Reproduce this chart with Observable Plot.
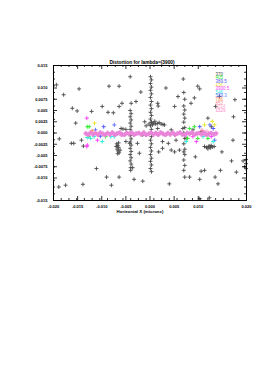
<!DOCTYPE html>
<html><head><meta charset="utf-8">
<script src="https://cdn.jsdelivr.net/npm/d3@7"></script>
<script src="https://cdn.jsdelivr.net/npm/@observablehq/plot@0.6"></script>
<style>body{margin:0;background:#fff}#chart{width:273px;height:386px}</style>
</head><body><div id="chart"></div>
<script>
const titleText = "Distortion for lambda=(3900)";
const xTitle = "Horizontal X (microns)";
const seriesLabels = ["370","405","389.5","436","3900.5","546","589.3","706","852","1014","1529"];
const seriesColors = ["#4a4a4a","#33ee33","#5555ff","#e8e830","#ff44ff","#33eedd","#6677ff","#ff8844","#ff8899","#ffaacc","#ff88cc"];
const bandColor = "#e985d9";

const xTickValues = [-0.02,-0.015,-0.01,-0.005,0,0.005,0.01,0.02];
const xTickLabels = ["-0.020","-0.015","-0.010","-0.005","0.000","0.005","0.010","0.020"];
const yTickValues = [-0.015,-0.01,-0.0075,-0.005,-0.0025,0,0.0025,0.005,0.0075,0.01,0.015];
const yTickLabels = ["-0.015","-0.010","-0.0075","-0.005","-0.0025","0.000","0.0025","0.005","0.0075","0.010","0.015"];

// gray "+" scatter (series 370)
const scatterX = [-0.0189,-0.0175,-0.0179,-0.0161,-0.0154,-0.0163,-0.0139,-0.0121,-0.0111,-0.0099,-0.0090,-0.0087,-0.0085,-0.0080,-0.0076,-0.0064,-0.0064,-0.0064,-0.0058,-0.0056,-0.0050,-0.0042,-0.0036,-0.0033,-0.0029,-0.0022,-0.0019,-0.0015,0.0016,0.0017,0.0018,0.0026,0.0033,0.0038,0.0040,0.0044,0.0051,0.0051,0.0058,0.0061,0.0075,0.0082,0.0085,0.0092,0.0094,0.0099,0.0103,0.0106,0.0113,0.0120,0.0123,0.0127,0.0135,0.0136,0.0141,0.0144,0.0146,0.0149,0.0169,0.0172,0.0173,0.0176,0.0179,0.0193,0.0196,0.0199,0.0199,0.0199,-0.0194,-0.0147,-0.0151,-0.0188,-0.0142,-0.0138,0.0069,0.0103,0.0103,-0.0158,-0.0050,-0.0026,-0.0015,-0.0060,0.0016,0.0030,0.0044,0.0054,0.0026,0.0089,0.0106,0.0068];
const scatterY = [-0.0120,-0.0116,0.0085,0.0055,0.0022,-0.0023,-0.0114,0.0048,-0.0079,0.0059,-0.0098,0.0046,0.0104,-0.0116,0.0045,0.0104,0.0059,-0.0098,0.0066,0.0009,-0.0019,-0.0023,-0.0077,-0.0103,0.0070,-0.0045,0.0091,-0.0107,0.0066,0.0060,-0.0042,-0.0034,0.0100,-0.0023,-0.0113,-0.0038,0.0059,-0.0042,0.0081,-0.0038,-0.0012,-0.0098,0.0066,0.0078,-0.0053,0.0104,-0.0103,-0.0085,-0.0083,0.0033,-0.0144,0.0014,-0.0098,0.0059,-0.0113,0.0081,-0.0083,-0.0042,-0.0062,-0.0016,0.0036,0.0074,-0.0087,-0.0062,-0.0075,-0.0079,-0.0068,-0.0059,0.0107,0.0098,0.0049,-0.0013,-0.0016,-0.0029,0.0120,0.0098,-0.0146,-0.0023,0.0008,-0.0023,-0.0004,0.0010,0.0010,0.0018,0.0007,-0.0016,-0.0019,0.0007,0.0003,0.0010];

// vertical columns and clusters (series 370)
const columnAX = [-0.0041,-0.0039,-0.0041,-0.0039,-0.0041,-0.0039,-0.0041,-0.0039,-0.0041,-0.0039,-0.0041,-0.0039,-0.0041,-0.0039,-0.0041,-0.0039,-0.0041,-0.0039,-0.0041,-0.0039,-0.0040,-0.0040];
const columnAY = [0.0125,0.0066,0.0050,0.0043,0.0036,0.0029,0.0022,0.0015,0.0008,0.0001,-0.0006,-0.0013,-0.0020,-0.0027,-0.0034,-0.0041,-0.0048,-0.0055,-0.0062,-0.0069,-0.0077,-0.0083];
const columnBX = [0.0001,0.0003,0.0001,0.0003,0.0001,0.0003,0.0001,0.0003,0.0001,0.0003,0.0001,0.0003,0.0001,0.0003,0.0001,0.0003,0.0001,0.0003,0.0001,0.0003,0.0001,0.0003,0.0001,0.0003,0.0001,0.0003,0.0001,0.0003];
const columnBY = [0.0125,0.0118,0.0110,0.0102,0.0095,0.0087,0.0079,0.0070,0.0062,0.0054,0.0046,0.0039,0.0031,0.0024,0.0016,0.0008,0.0000,-0.0008,-0.0016,-0.0024,-0.0032,-0.0040,-0.0048,-0.0056,-0.0063,-0.0071,-0.0079,-0.0086];
const columnCX = [0.0070,0.0072,0.0070,0.0072,0.0070,0.0072,0.0070,0.0072,0.0070,0.0072,0.0070,0.0072,0.0070,0.0072,0.0070,0.0072,0.0070,0.0072];
const columnCY = [0.0090,0.0075,0.0060,0.0051,0.0042,0.0033,0.0024,0.0012,0.0000,-0.0012,-0.0024,-0.0036,-0.0042,-0.0048,-0.0060,-0.0072,-0.0083,-0.0098];
const clusterX = [0.0003,0.0007,0.0011,0.0015,0.0019,0.0023,0.0027,0.0005,0.0010,-0.0002,-0.0008,-0.0011,-0.0069,-0.0067,-0.0065,-0.0068,-0.0066,-0.0064,-0.0070,-0.0062,-0.0067,-0.0065,0.0113,0.0117,0.0121,0.0125,0.0129,0.0133,0.0120,0.0127,0.0124];
const clusterY = [0.0024,0.0022,0.0020,0.0021,0.0023,0.0020,0.0019,0.0018,0.0026,0.0020,0.0016,0.0025,-0.0024,-0.0028,-0.0032,-0.0036,-0.0040,-0.0044,-0.0030,-0.0038,-0.0046,-0.0022,-0.0030,-0.0032,-0.0030,-0.0033,-0.0031,-0.0030,-0.0035,-0.0028,-0.0029];

// coloured series near zero
const colourX = [-0.0126,-0.0115,-0.0096,-0.0074,-0.0127,-0.0123,-0.0130,-0.0109,-0.0116,-0.0103,-0.0092,-0.0081,-0.0074,-0.0099,-0.0113,-0.0131,-0.0131,-0.0130,-0.0130,0.0082,0.0092,0.0103,0.0113,0.0124,0.0131,0.0134,0.0078,0.0089,0.0099,0.0110,0.0120,0.0127,0.0134,0.0075,0.0096,0.0131,0.0129,-0.0120,0.0108,-0.0060,0.0118];
const colourY = [0.0014,0.0022,0.0014,0.0018,-0.0008,-0.0012,-0.0027,-0.0016,-0.0008,-0.0007,-0.0008,-0.0008,-0.0008,-0.0019,0.0007,0.0033,-0.0030,-0.0010,0.0014,0.0010,0.0014,0.0014,0.0018,0.0018,0.0010,0.0018,-0.0012,-0.0008,-0.0012,-0.0008,-0.0012,-0.0008,-0.0016,-0.0019,-0.0019,-0.0019,0.0026,0.0005,0.0006,-0.0005,0.0004];
const colourSeries = [1,3,2,6,1,5,4,4,5,2,1,5,5,5,6,4,4,5,1,1,1,2,3,6,2,3,1,4,1,5,1,4,6,5,4,5,3,7,8,10,9];

// pink band of the reference wavelength
const bandX = [-0.0133,-0.0128,-0.0123,-0.0118,-0.0113,-0.0108,-0.0103,-0.0098,-0.0093,-0.0088,-0.0083,-0.0078,-0.0073,-0.0068,-0.0063,-0.0058,-0.0053,-0.0048,-0.0043,-0.0038,-0.0033,-0.0028,-0.0023,-0.0018,-0.0013,-0.0008,-0.0003,0.0002,0.0007,0.0012,0.0017,0.0022,0.0027,0.0032,0.0037,0.0042,0.0047,0.0052,0.0057,0.0062,0.0067,0.0072,0.0077,0.0082,0.0087,0.0092,0.0097,0.0102,0.0107,0.0112,0.0117,0.0122,0.0127,0.0132,0.0137];
const bandY = [-0.0001,-0.0004,0.0001,-0.0003,0.0000,-0.0004,0.0001,-0.0002,-0.0004,0.0000,-0.0003,0.0001,-0.0004,-0.0001,0.0001,-0.0003,-0.0004,0.0000,-0.0002,0.0001,-0.0004,-0.0001,0.0000,-0.0003,0.0001,-0.0004,-0.0002,0.0001,-0.0003,0.0000,-0.0004,0.0001,-0.0002,-0.0004,0.0000,-0.0003,0.0001,-0.0004,-0.0001,0.0001,-0.0003,-0.0004,0.0000,-0.0002,0.0001,-0.0004,-0.0001,0.0000,-0.0003,0.0001,-0.0004,-0.0002,0.0000,-0.0003,-0.0001];

const grayX = [...scatterX, ...columnAX, ...columnBX, ...columnCX, ...clusterX];
const grayY = [...scatterY, ...columnAY, ...columnBY, ...columnCY, ...clusterY];

const W = 273, H = 386, mL = 53, mR = 27, mT = 65, mB = 186;
const frameH = H - mT - mB, frameW = W - mL - mR;
const xMinor = d3.range(-0.02, 0.02001, 0.0016);
const yMinor = d3.range(-0.015, 0.01501, 0.0015);
const font = "Liberation Sans, DejaVu Sans, sans-serif";

const legendMarks = seriesLabels.map((t, i) => Plot.text([t], {
  frameAnchor: "top-left", dx: 162, dy: 7 + i * 3.6, text: d => d,
  fill: seriesColors[i], fontSize: 4.5, textAnchor: "start"
}));

const chart = Plot.plot({
  width: W, height: H,
  marginLeft: mL, marginRight: mR, marginTop: mT, marginBottom: mB,
  style: {fontFamily: font, background: "#fff", color: "#000"},
  x: {domain: [-0.02, 0.02]},
  y: {domain: [-0.015, 0.015]},
  color: {type: "identity"},
  marks: [
    Plot.dot(grayX, {x: grayX, y: grayY, symbol: "plus", r: 1.4, stroke: seriesColors[0], strokeWidth: 0.9}),
    Plot.dot(colourX, {x: colourX, y: colourY, symbol: "plus", r: 1.4, stroke: colourSeries.map(s => seriesColors[s]), strokeWidth: 1}),
    Plot.dot(bandX, {x: bandX, y: bandY, symbol: "plus", r: 1.6, stroke: bandColor, strokeWidth: 2.2}),
    Plot.tickX(xMinor, {x: d => d, insetTop: frameH - 2, stroke: "#000", strokeWidth: 0.8}),
    Plot.tickX(xMinor, {x: d => d, insetBottom: frameH - 2, stroke: "#000", strokeWidth: 0.8}),
    Plot.tickX(xTickValues, {x: d => d, insetTop: frameH - 4, stroke: "#000", strokeWidth: 0.8}),
    Plot.tickX(xTickValues, {x: d => d, insetBottom: frameH - 4, stroke: "#000", strokeWidth: 0.8}),
    Plot.tickY(yMinor, {y: d => d, insetRight: frameW - 2, stroke: "#000", strokeWidth: 0.8}),
    Plot.tickY(yMinor, {y: d => d, insetLeft: frameW - 2, stroke: "#000", strokeWidth: 0.8}),
    Plot.tickY(yTickValues, {y: d => d, insetRight: frameW - 4, stroke: "#000", strokeWidth: 0.8}),
    Plot.tickY(yTickValues, {y: d => d, insetLeft: frameW - 4, stroke: "#000", strokeWidth: 0.8}),
    Plot.axisX(xTickValues, {anchor: "bottom", tickSize: 0, tickPadding: 5, fontSize: 4, fontWeight: "bold", fill: "#000",
      tickFormat: d => xTickLabels[xTickValues.indexOf(d)], label: null}),
    Plot.axisY(yTickValues, {anchor: "left", tickSize: 0, tickPadding: 6, fontSize: 4, fontWeight: "bold", fill: "#000",
      tickFormat: d => yTickLabels[yTickValues.indexOf(d)], label: null}),
    Plot.frame({stroke: "#000", strokeWidth: 1}),
    Plot.text([titleText], {frameAnchor: "top", dx: -8, dy: -5, text: d => d, fontSize: 4.8, fontWeight: "bold", fill: "#000"}),
    Plot.text([xTitle], {frameAnchor: "bottom", dx: -10, dy: 12.5, text: d => d, fontSize: 4.4, fontWeight: "bold", fill: "#000"}),
    ...legendMarks
  ]
});
document.getElementById("chart").appendChild(chart);
</script>
</body></html>
